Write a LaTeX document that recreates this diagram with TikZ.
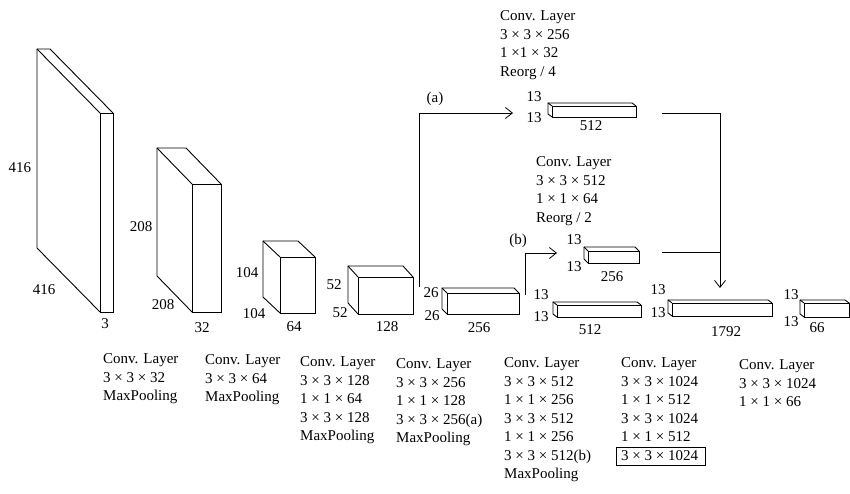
\documentclass[tikz,border=0pt]{standalone}
\usepackage{fontspec}
\setmainfont{Liberation Serif}
\usetikzlibrary{arrows.meta}
\newcommand\cub[7]{%
  \draw[boxline] (#2,#3) rectangle (#4,#5);
  \draw[boxline] (#2,#5) -- ++(#6,#7) -- ++(0,#3-#5) -- ++(#4-#2,0) -- (#4,#3);
  \draw[boxline] (#2,#3) -- ++(#6,#7);
  \coordinate (#1) at (#4,#3);}
\begin{document}
\begin{tikzpicture}[x=1pt,y=-1pt,
  boxline/.style={line width=0.9pt, line join=miter},
  conn/.style={line width=0.8pt},
  arr/.style={conn, -{Straight Barb[length=7pt,width=11pt]}},
  lbl/.style={inner sep=0, font=\fontsize{15}{18.5}\selectfont},
  blk/.style={lbl, align=left, anchor=north west}]
\useasboundingbox (0,0) rectangle (850,493);
% cuboids
\cub{c1}{100}{113}{113}{312}{-63}{-64}
\cub{c2}{192}{184}{221}{312}{-35}{-36}
\cub{c3}{280}{257}{315}{313}{-17}{-16}
\cub{c4}{358}{277}{413}{314}{-10}{-11}
\cub{c5}{447}{293}{519}{314}{-5}{-5}
\cub{ca}{552}{106}{636}{117}{-4}{-3}
\cub{cb}{588}{251}{639}{263}{-4}{-4}
\cub{c6}{557}{305}{641}{317}{-4}{-3}
\cub{c7}{672}{303}{772}{316}{-4}{-3}
\cub{c8}{804}{303}{849}{317}{-4}{-3}
% size labels
\node[lbl] (l1a) at (20,168) {416};
\node[lbl] (l1b) at (44,290) {416};
\node[lbl] (l1c) at (105,324) {3};
\node[lbl] (l2a) at (141,227) {208};
\node[lbl] (l2b) at (163,305) {208};
\node[lbl] (l2c) at (202,328) {32};
\node[lbl] (l3a) at (247,273) {104};
\node[lbl] (l3b) at (254,314) {104};
\node[lbl] (l3c) at (294,327) {64};
\node[lbl] (l4a) at (334,285) {52};
\node[lbl] (l4b) at (340,313) {52};
\node[lbl] (l4c) at (387,327) {128};
\node[lbl] (l5a) at (431,293) {26};
\node[lbl] (l5b) at (432,316) {26};
\node[lbl] (l5c) at (479,328) {256};
\node[lbl] (laa) at (534,97) {13};
\node[lbl] (lab) at (534,118) {13};
\node[lbl] (lac) at (591,126) {512};
\node[lbl] (lba) at (574,240) {13};
\node[lbl] (lbb) at (574,267) {13};
\node[lbl] (lbc) at (612,277) {256};
\node[lbl] (l6a) at (541,295) {13};
\node[lbl] (l6b) at (541,317) {13};
\node[lbl] (l6c) at (590,330) {512};
\node[lbl] (l7a) at (658,290) {13};
\node[lbl] (l7b) at (658,313) {13};
\node[lbl] (l7c) at (726,332) {1792};
\node[lbl] (l8a) at (791,295) {13};
\node[lbl] (l8b) at (791,322) {13};
\node[lbl] (l8c) at (817,328) {66};
% connectors
\coordinate (aS) at (419,287);
\coordinate (aE) at (513,113);
\draw[arr] (aS) |- (aE);
\node[lbl] (alab) at (435,99) {(a)};
\coordinate (bS) at (525,295);
\coordinate (bE) at (557,253);
\draw[arr] (bS) |- (bE);
\node[lbl] (blab) at (518,241) {(b)};
\coordinate (mA) at (662,113);
\coordinate (mE) at (720,288);
\coordinate (mB) at (662,252);
\coordinate (mJ) at (720,252);
\draw[arr] (mA) -| (mE);
\draw[conn] (mB) -- (mJ);
% text blocks
\node[blk] (ta) at (500,10.5) {Conv. Layer\\3 × 3 × 256\\1 ×1 × 32\\Reorg / 4};
\node[blk] (tb) at (536,156.5) {Conv. Layer\\3 × 3 × 512\\1 × 1 × 64\\Reorg / 2};
\node[blk] (t1) at (103,353.5) {Conv. Layer\\3 × 3 × 32\\MaxPooling};
\node[blk] (t2) at (205,354.5) {Conv. Layer\\3 × 3 × 64\\MaxPooling};
\node[blk] (t3) at (300,356.5) {Conv. Layer\\3 × 3 × 128\\1 × 1 × 64\\3 × 3 × 128\\MaxPooling};
\node[blk] (t4) at (396,358.5) {Conv. Layer\\3 × 3 × 256\\1 × 1 × 128\\3 × 3 × 256(a)\\MaxPooling};
\node[blk] (t5) at (504,357.5) {Conv. Layer\\3 × 3 × 512\\1 × 1 × 256\\3 × 3 × 512\\1 × 1 × 256\\3 × 3 × 512(b)\\MaxPooling};
\node[blk] (t6) at (621,357.5) {Conv. Layer\\3 × 3 × 1024\\1 × 1 × 512\\3 × 3 × 1024\\1 × 1 × 512\\3 × 3 × 1024};
\draw[line width=0.6pt] (616,447) rectangle (705,465);
\node[blk] (t7) at (739,359.5) {Conv. Layer\\3 × 3 × 1024\\1 × 1 × 66};
\end{tikzpicture}
\end{document}
